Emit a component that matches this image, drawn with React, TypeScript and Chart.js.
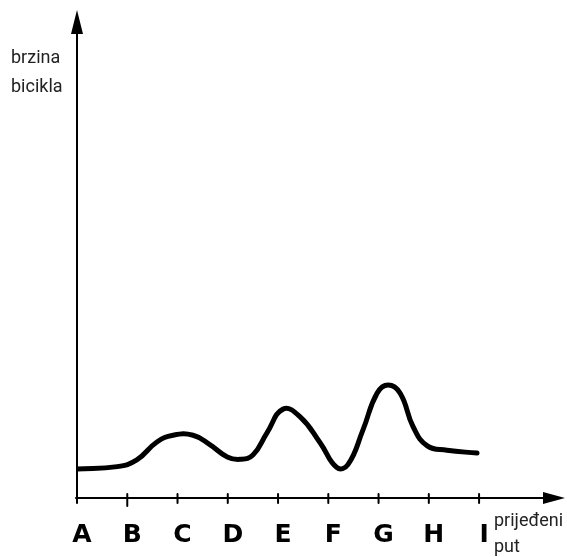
import React, { useEffect, useRef } from "react";
import { Chart, registerables } from "chart.js";

Chart.register(...registerables);

// Categories along the travelled path (tick labels)
const categories = ["A", "B", "C", "D", "E", "F", "G", "H", "I"];
// Points of the drawn curve: position along the path (in category units) and speed
const pathPos = [0, 0.8, 1.19, 1.59, 1.91, 2.31, 2.65, 2.99, 3.24, 3.5, 3.78, 4.1, 4.44, 4.84, 5.17, 5.39, 5.69, 5.97, 6.19, 6.43, 6.69, 6.97, 7.36, 7.96];
const speed = [6.0, 6.5, 7.9, 11.6, 13.0, 13.0, 11.0, 8.5, 8.0, 8.9, 13.5, 18.4, 16.8, 11.4, 6.3, 6.9, 14.1, 21.7, 23.4, 21.7, 14.7, 10.8, 9.9, 9.3];
const yTitle = ["brzina", "bicikla"];
const xTitle = ["prijeđeni", "put"];

const axesPlugin = {
  id: "handAxes",
  afterDatasetsDraw(chart: any) {
    const ctx = chart.ctx as CanvasRenderingContext2D;
    const xs = chart.scales.x;
    const ys = chart.scales.y;
    const x0 = xs.getPixelForValue(0);
    const y0 = ys.getPixelForValue(0);
    ctx.save();
    ctx.strokeStyle = "#000";
    ctx.fillStyle = "#000";
    ctx.lineWidth = 2;
    ctx.lineCap = "round";
    // y axis
    ctx.beginPath();
    ctx.moveTo(x0, y0 + 2);
    ctx.lineTo(x0, 30);
    ctx.stroke();
    ctx.beginPath();
    ctx.moveTo(x0, 10);
    ctx.lineTo(x0 - 6, 34);
    ctx.lineTo(x0 + 6, 34);
    ctx.closePath();
    ctx.fill();
    // x axis
    ctx.beginPath();
    ctx.moveTo(x0 - 1, y0);
    ctx.lineTo(548, y0);
    ctx.stroke();
    ctx.beginPath();
    ctx.moveTo(565, y0);
    ctx.lineTo(543, y0 - 6);
    ctx.lineTo(543, y0 + 6);
    ctx.closePath();
    ctx.fill();
    // ticks and labels
    ctx.font = "bold 25px 'DejaVu Sans'";
    ctx.textAlign = "center";
    ctx.textBaseline = "middle";
    categories.forEach((c, i) => {
      const px = xs.getPixelForValue(i);
      ctx.beginPath();
      ctx.moveTo(px, y0 - 4);
      ctx.lineTo(px, y0 + (i === 1 ? 8 : 5));
      ctx.stroke();
      ctx.fillText(c, px + 5, 535);
    });
    // axis titles
    ctx.font = "18px Roboto";
    ctx.textAlign = "left";
    ctx.textBaseline = "alphabetic";
    ctx.fillStyle = "#222";
    ctx.fillText(yTitle[0], 11, 63);
    ctx.fillText(yTitle[1], 11, 92);
    ctx.fillText(xTitle[0], 494, 526);
    ctx.fillText(xTitle[1], 494, 552);
    ctx.restore();
  },
};

export default function App() {
  const ref = useRef<HTMLCanvasElement>(null);
  useEffect(() => {
    if (!ref.current) return;
    const chart = new Chart(ref.current, {
      type: "line",
      data: {
        datasets: [
          {
            data: pathPos.map((x, i) => ({ x, y: speed[i] })),
            borderColor: "#000",
            borderWidth: 5,
            pointRadius: 0,
            tension: 0.45,
            fill: false,
            borderCapStyle: "round",
            borderJoinStyle: "round",
          } as any,
        ],
      },
      options: {
        animation: false,
        responsive: false,
        maintainAspectRatio: false,
        layout: { padding: { left: 77, right: 7, top: 15, bottom: 59 } },
        plugins: { legend: { display: false }, tooltip: { enabled: false } },
        scales: {
          x: { type: "linear", display: false, min: 0, max: 9.61 },
          y: { type: "linear", display: false, min: 0, max: 100 },
        },
      },
      plugins: [axesPlugin],
    });
    return () => chart.destroy();
  }, []);
  return (
    <div style={{ position: "fixed", left: 0, top: 0, width: 567, height: 557, background: "#fff" }}>
      <canvas ref={ref} width={567} height={557} style={{ width: 567, height: 557 }} />
    </div>
  );
}
